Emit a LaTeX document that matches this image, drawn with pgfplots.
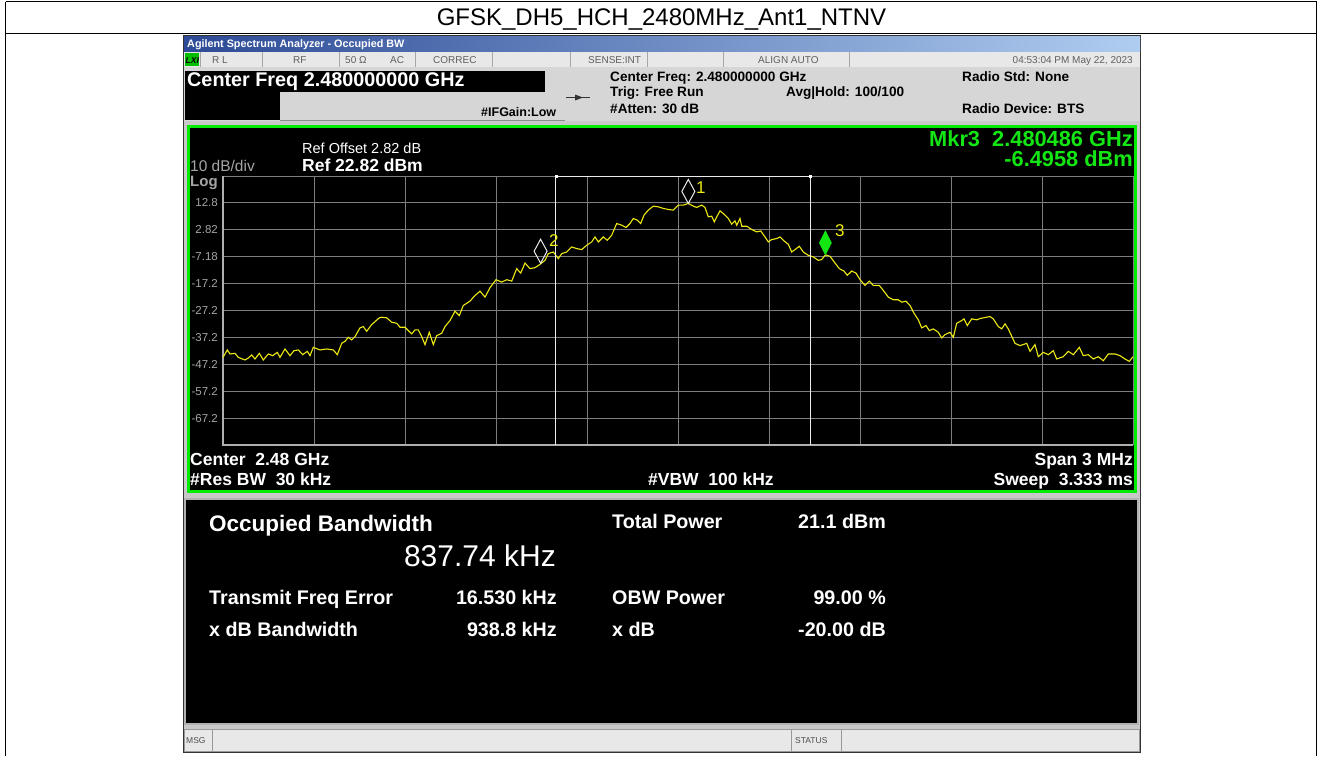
\documentclass[border=0pt]{standalone}
\usepackage{pgfplots}
\pgfplotsset{compat=1.18}
\usepackage{fontspec}
\setmainfont{Liberation Sans}

\definecolor{trace}{RGB}{238,234,20}
\definecolor{tbdark}{RGB}{45,75,150}
\definecolor{tblight}{RGB}{175,205,240}
\definecolor{statgray}{RGB}{232,232,232}
\definecolor{hdrgray}{RGB}{214,214,214}
\definecolor{shotgray}{RGB}{200,200,200}
\definecolor{scrgreen}{RGB}{0,235,0}
\definecolor{gridgray}{RGB}{125,125,125}
\definecolor{framegray}{RGB}{175,175,175}
\definecolor{labgray}{RGB}{165,165,165}
\definecolor{mkrgreen}{RGB}{20,230,20}
\definecolor{stattext}{RGB}{95,95,95}
\definecolor{obwwhite}{RGB}{235,235,235}

\newcommand{\fs}[1]{\fontsize{#1}{#1}\selectfont}

% marker diamond, tip at the data point
\pgfdeclareplotmark{mkrhollow}{%
  \pgfpathmoveto{\pgfqpoint{0pt}{0pt}}%
  \pgfpathlineto{\pgfqpoint{6.5pt}{12pt}}%
  \pgfpathlineto{\pgfqpoint{0pt}{24pt}}%
  \pgfpathlineto{\pgfqpoint{-6.5pt}{12pt}}%
  \pgfpathclose\pgfusepathqstroke}
\pgfdeclareplotmark{mkrfilled}{%
  \pgfpathmoveto{\pgfqpoint{0pt}{0pt}}%
  \pgfpathlineto{\pgfqpoint{6pt}{12pt}}%
  \pgfpathlineto{\pgfqpoint{0pt}{24pt}}%
  \pgfpathlineto{\pgfqpoint{-6pt}{12pt}}%
  \pgfpathclose\pgfusepathqfillstroke}

\tikzset{
  tl/.style={inner sep=0pt, anchor=base west},
  tr/.style={inner sep=0pt, anchor=base east},
  tc/.style={inner sep=0pt, anchor=base},
}

\begin{document}
\begin{tikzpicture}[x=1pt,y=1pt]
% ---------- frame, screenshot panels (pixel coords, y down)
\begin{scope}[y=-1pt]
\useasboundingbox (0,0) rectangle (1322,756);
\fill[white] (0,0) rectangle (1322,756);
\draw[black, line width=1pt] (5.5,1.5) -- (1316.5,1.5);
\draw[black, line width=1pt] (5.5,1.5) -- (5.5,756);
\draw[black, line width=1pt] (1316.5,1.5) -- (1316.5,756);
\draw[black, line width=1pt] (5.5,33.5) -- (1316.5,33.5);

\fill[shotgray] (183,35) rectangle (1141,752);
\draw[black!80, line width=1.2pt] (183.5,35.5) rectangle (1140.5,752);
\shade[left color=tbdark, right color=tblight] (184,36) rectangle (1140,51);
\fill[statgray] (184,51.5) rectangle (1140,67);
\foreach \xx in {200,262,339,415,492,570,647,723,849}
  \draw[gray!70] (\xx,52) -- (\xx,66.5);
\fill[green!75!black] (185,53) rectangle (199,66);
\fill[hdrgray] (184,67) rectangle (1140,121);
\fill[black] (185,71) rectangle (545,91.5);
\fill[black] (185,91.5) rectangle (280,120);
\draw[gray!90, line width=1pt] (280,120.5) -- (565,120.5);
\draw[black!80, line width=1pt] (566,97.5) -- (590,97.5);
\fill[black!80] (583,97.5) -- (575,94.5) -- (575,100.5) -- cycle;

\fill[black] (187,125) rectangle (1137,493);
\draw[scrgreen, line width=3pt] (188.5,126.5) rectangle (1135.5,491.5);

\fill[black] (185,499) rectangle (1138,724);
\draw[gray!60, line width=1.5pt] (185,499) rectangle (1138,724);

\fill[statgray] (184,729) rectangle (1140,751);
\draw[gray!80] (184.5,729.5) rectangle (1139.5,751);
\draw[gray!80] (212.5,730) -- (212.5,751);
\draw[gray!80] (791.5,730) -- (791.5,751);
\draw[gray!80] (841.5,730) -- (841.5,751);
\end{scope}

% ---------- spectrum trace
\begin{axis}[
  at={(223pt,-445pt)}, anchor=south west,
  scale only axis, width=910pt, height=269pt,
  xmin=-1500, xmax=1500, ymin=-77.18, ymax=22.82,
  clip=false,
  axis line style={draw=none},
  major tick length=0pt,
  xtick={-1500,-1200,-900,-600,-300,0,300,600,900,1200,1500},
  xticklabels={},
  ytick={-77.18,-67.18,-57.18,-47.18,-37.18,-27.18,-17.18,-7.18,2.82,12.82,22.82},
  yticklabels={{},{-67.2},{-57.2},{-47.2},{-37.2},{-27.2},{-17.2},{-7.18},{2.82},{12.8},{}},
  yticklabel style={font=\fs{11.5}, text=labgray, anchor=east, inner sep=0pt, xshift=-5pt},
  grid=major, grid style={gridgray, line width=1pt},
]
\draw[framegray, line width=2.5pt] (axis cs:-1500,22.82) -- (axis cs:-1500,-77.18) -- (axis cs:1500,-77.18);

% frequency offset from 2.48 GHz (kHz), level (dBm)
\addplot[trace, line width=1.1pt] coordinates {
(-1500,-44.61) (-1485.8,-41.84) (-1476.9,-43.34) (-1460.4,-43.11) (-1449.6,-44.60)
(-1427.5,-45.57) (-1416.6,-44.83) (-1405.4,-43.71) (-1394.5,-45.20) (-1380.3,-43.11)
(-1367.1,-45.57) (-1350.7,-43.34) (-1336.2,-43.97) (-1321.0,-42.74) (-1312.1,-44.60)
(-1295.6,-41.47) (-1279.1,-43.97) (-1265.9,-42.10) (-1251.8,-41.84) (-1237.3,-43.60)
(-1222.1,-42.37) (-1213.2,-43.97) (-1202.3,-40.87) (-1180.2,-41.84) (-1158.1,-41.47)
(-1136.4,-41.84) (-1123.2,-43.60) (-1108.7,-39.38) (-1097.8,-38.63) (-1086.9,-37.14)
(-1075.7,-38.11) (-1064.8,-36.88) (-1048.4,-33.63) (-1037.5,-33.15) (-1026.3,-34.90)
(-1009.8,-32.40) (-984.7,-29.90) (-976.8,-29.68) (-960.3,-29.90) (-943.8,-31.54)
(-927.4,-31.92) (-916.5,-33.41) (-900.0,-33.41) (-889.1,-34.64) (-877.9,-35.87)
(-867.0,-34.38) (-856.2,-34.38) (-844.9,-36.88) (-834.1,-39.87) (-819.9,-35.28)
(-806.7,-39.87) (-795.5,-36.51) (-779.0,-35.65) (-768.1,-33.15) (-751.6,-30.91)
(-735.2,-27.44) (-721.0,-29.05) (-707.8,-25.31) (-685.7,-23.71) (-672.5,-21.96)
(-652.7,-19.98) (-636.3,-22.22) (-619.8,-18.71) (-600.0,-15.72) (-581.2,-16.62)
(-564.7,-15.72) (-548.2,-16.25) (-531.8,-11.62) (-518.6,-13.26) (-504.4,-9.53)
(-487.9,-11.62) (-471.4,-11.25) (-454.9,-10.02) (-438.5,-8.52) (-427.6,-6.02)
(-411.1,-5.43) (-394.6,-7.89) (-383.4,-6.02) (-366.9,-5.43) (-350.5,-3.56)
(-334.0,-4.16) (-317.5,-4.53) (-301.0,-2.93) (-284.5,-1.69) (-273.6,0.17)
(-262.7,-1.69) (-246.3,0.17) (-233.1,-1.06) (-218.6,0.81) (-202.1,5.17)
(-185.6,4.54) (-171.4,3.68) (-158.2,5.17) (-147.4,7.04) (-134.2,6.40)
(-123.0,5.17) (-112.1,8.27) (-97.9,10.13) (-81.4,11.63) (-65.0,11.36)
(-48.5,10.77) (-32.0,10.39) (-15.5,10.13) (1.0,12.00) (17.5,12.00)
(33.9,12.63) (50.4,11.63) (61.6,11.14) (78.1,12.00) (89.0,11.14)
(99.9,7.63) (111.1,7.89) (119.7,5.77) (127.6,7.63) (138.5,9.87)
(151.6,8.64) (165.8,7.04) (177.0,4.91) (187.9,6.14) (193.5,4.54)
(204.4,7.04) (210.0,4.16) (226.5,4.16) (243.0,2.93) (259.4,2.04)
(272.6,2.41) (286.8,0.17) (297.7,-1.69) (308.9,-0.80) (325.4,-0.43)
(336.3,0.17) (349.4,-1.32) (363.6,-2.55) (374.8,-5.43) (385.7,-4.53)
(399.9,-3.30) (413.1,-5.43) (429.6,-6.66) (446.0,-7.29) (462.5,-8.52)
(473.7,-8.26) (486.0,-6.50) (501.1,-7.03) (517.6,-9.53) (531.8,-11.62)
(547.3,-12.52) (558.1,-14.12) (572.6,-12.52) (586.8,-13.26) (600.0,-15.72)
(616.5,-17.85) (630.6,-16.25) (643.8,-17.85) (663.6,-17.85) (676.8,-19.72)
(693.3,-22.22) (709.8,-23.19) (726.3,-23.19) (737.5,-24.08) (751.6,-23.71)
(764.8,-25.31) (778.0,-28.19) (792.2,-30.65) (803.4,-33.63) (817.6,-32.78)
(828.4,-34.64) (841.6,-34.01) (858.1,-35.28) (869.3,-37.37) (880.2,-36.13)
(896.7,-35.28) (907.6,-37.14) (918.8,-31.92) (935.3,-30.91) (942.9,-30.28)
(953.7,-32.78) (968.2,-30.28) (984.7,-30.65) (995.6,-30.16) (1028.6,-29.42)
(1039.4,-30.28) (1055.9,-33.15) (1067.1,-34.01) (1078.0,-32.14) (1088.9,-34.01)
(1111.0,-39.38) (1127.5,-40.24) (1149.6,-39.38) (1160.4,-42.37) (1176.9,-39.87)
(1187.8,-44.34) (1204.3,-42.74) (1220.8,-43.60) (1237.2,-42.10) (1248.4,-45.20)
(1270.2,-44.34) (1286.7,-42.37) (1303.2,-43.60) (1323.0,-40.87) (1336.1,-43.97)
(1352.6,-43.60) (1369.1,-45.20) (1385.6,-44.34) (1402.1,-45.84) (1418.6,-43.34)
(1440.7,-43.34) (1457.1,-43.97) (1473.6,-45.20) (1487.8,-46.10) (1500,-44.34)
};

% occupied bandwidth limits (837.74 kHz around +16.53 kHz)
\addplot[obwwhite, line width=1pt] coordinates {
  (-402.3,-77.18) (-402.3,22.82) (435.4,22.82) (435.4,-77.18)};
\addplot[only marks, mark=square*, mark size=1.2pt, white] coordinates {
  (-402.3,22.82) (435.4,22.82)};

% markers 1, 2 (hollow) and 3 (active)
\addplot[only marks, mark=mkrhollow, mark options={draw=white!85!gray, line width=1pt}] coordinates {
  (34,12.63) (-453,-9.6)};
\addplot[only marks, mark=mkrfilled, mark options={draw=mkrgreen, fill=mkrgreen, line width=0.5pt}] coordinates {
  (486,-6.50)};
\end{axis}

% ---------- texts (pixel coords, y down)
\begin{scope}[y=-1pt]
\node[tc, font=\fs{24}] at (661.5,25) {GFSK\_DH5\_HCH\_2480MHz\_Ant1\_NTNV};
\node[tl, font=\bfseries\fs{10.8}, text=white] at (187,47) {Agilent Spectrum Analyzer - Occupied BW};

\node[tl, font=\bfseries\itshape\fs{8.5}] at (185.5,63) {LXI};
\node[tl, font=\fs{10}, text=stattext] at (212,63) {R L};
\node[tl, font=\fs{10}, text=stattext] at (293,63) {RF};
\node[tl, font=\fs{10}, text=stattext] at (345,63) {50 Ω};
\node[tl, font=\fs{10}, text=stattext] at (390,63) {AC};
\node[tl, font=\fs{10}, text=stattext] at (433,63) {CORREC};
\node[tl, font=\fs{10}, text=stattext] at (588,63) {SENSE:INT};
\node[tl, font=\fs{10}, text=stattext] at (758,63) {ALIGN AUTO};
\node[tr, font=\fs{10}, text=stattext] at (1133,63) {04:53:04 PM May 22, 2023};

\node[tl, font=\bfseries\fs{19.8}, text=white] at (187,86.7) {Center Freq 2.480000000 GHz};
\node[tl, font=\bfseries\fs{12.5}] at (481,116) {\#IFGain:Low};
\node[tl, font=\bfseries\fs{13.6}] at (610,81.5) {Center Freq: 2.480000000 GHz};
\node[tl, font=\bfseries\fs{13.6}] at (610,96.7) {Trig: Free Run};
\node[tl, font=\bfseries\fs{13.6}] at (610,113.5) {\#Atten: 30 dB};
\node[tl, font=\bfseries\fs{13.6}] at (786,96.7) {Avg|Hold: 100/100};
\node[tl, font=\bfseries\fs{13.6}] at (962,81.5) {Radio Std: None};
\node[tl, font=\bfseries\fs{13.6}] at (962,113.5) {Radio Device: BTS};

\node[tl, font=\fs{14.5}, text=white] at (302,153.3) {Ref Offset 2.82 dB};
\node[tl, font=\bfseries\fs{17.5}, text=white] at (302,171.7) {Ref 22.82 dBm};
\node[tl, font=\fs{15.5}, text=labgray] at (190,171.7) {10 dB/div};
\node[tl, font=\bfseries\fs{15}, text=labgray] at (190,186.5) {Log};
\node[tr, font=\bfseries\fs{21.8}, text=mkrgreen] at (1133,146) {Mkr3\ \ 2.480486 GHz};
\node[tr, font=\bfseries\fs{21.8}, text=mkrgreen] at (1133,166.7) {-6.4958 dBm};
\node[tl, font=\fs{17}, text=trace] at (696,193.3) {1};
\node[tl, font=\fs{17}, text=trace] at (549,246.7) {2};
\node[tl, font=\fs{17}, text=trace] at (835,236.7) {3};

\node[tl, font=\bfseries\fs{17.5}, text=white] at (190,465) {Center\ \ 2.48 GHz};
\node[tl, font=\bfseries\fs{17.5}, text=white] at (190,485) {\#Res BW\ \ 30 kHz};
\node[tl, font=\bfseries\fs{17.5}, text=white] at (648,485) {\#VBW\ \ 100 kHz};
\node[tr, font=\bfseries\fs{17.5}, text=white] at (1133,465) {Span 3 MHz};
\node[tr, font=\bfseries\fs{17.5}, text=white] at (1133,485) {Sweep\ \ 3.333 ms};

\node[tl, font=\bfseries\fs{22.5}, text=white] at (209,531) {Occupied Bandwidth};
\node[tr, font=\fs{30}, text=white] at (556,566.5) {837.74 kHz};
\node[tl, font=\bfseries\fs{19.7}, text=white] at (612,528) {Total Power};
\node[tr, font=\bfseries\fs{19.7}, text=white] at (886,528) {21.1 dBm};
\node[tl, font=\bfseries\fs{19.7}, text=white] at (209,604) {Transmit Freq Error};
\node[tr, font=\bfseries\fs{19.7}, text=white] at (557,604) {16.530 kHz};
\node[tl, font=\bfseries\fs{19.7}, text=white] at (612,604) {OBW Power};
\node[tr, font=\bfseries\fs{19.7}, text=white] at (886,604) {99.00 \%};
\node[tl, font=\bfseries\fs{19.7}, text=white] at (209,636) {x dB Bandwidth};
\node[tr, font=\bfseries\fs{19.7}, text=white] at (557,636) {938.8 kHz};
\node[tl, font=\bfseries\fs{19.7}, text=white] at (612,636) {x dB};
\node[tr, font=\bfseries\fs{19.7}, text=white] at (886,636) {-20.00 dB};

\node[tl, font=\fs{8.5}, text=black!70] at (186,743.5) {MSG};
\node[tl, font=\fs{8.5}, text=black!70] at (795,743.5) {STATUS};
\end{scope}
\end{tikzpicture}
\end{document}
